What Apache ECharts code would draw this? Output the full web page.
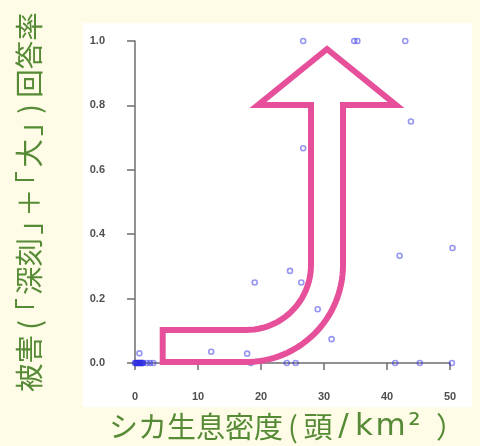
<!DOCTYPE html>
<html>
<head>
<meta charset="utf-8">
<script src="https://cdn.jsdelivr.net/npm/echarts@6/dist/echarts.min.js"></script>
<style>
  html, body { margin: 0; padding: 0; background: #fefce6; }
  #chart { width: 480px; height: 446px; }
</style>
</head>
<body>
<div id="chart"></div>
<script>
// Deer density (head/km2) per survey unit
const density = [
  0, 0.1, 0.2, 0.3, 0.4, 0.5, 0.6, 0.7, 0.8, 0.9, 1.0, 1.1, 1.2, 1.3,
  0.7, 1.9, 2.4, 2.9,
  12.1, 17.8, 18.4, 19.0,
  24.1, 25.5, 24.6, 26.4, 26.7, 26.7,
  29.0, 31.2, 34.8, 35.3,
  41.3, 42.0, 42.9, 43.8, 45.2, 50.3, 50.4
];
// Share of answers reporting "serious" + "large" damage
const damageRate = [
  0, 0, 0, 0, 0, 0, 0, 0, 0, 0, 0, 0, 0, 0,
  0.03, 0, 0, 0,
  0.035, 0.029, 0, 0.25,
  0, 0, 0.286, 0.25, 0.667, 1.0,
  0.167, 0.074, 1.0, 1.0,
  0, 0.333, 1.0, 0.75, 0, 0, 0.357
];
const xTicks = [0, 10, 20, 30, 40, 50];
const yTicks = [0, 0.2, 0.4, 0.6, 0.8, 1.0];

const points = density.map((d, i) => [d, damageRate[i]]);

const green = '#568a36';
const axisGray = '#6e6e6e';
const cjk = 'Noto Sans CJK JP';
const latin = 'DejaVu Sans';
const labelStyle = {
  color: '#505050',
  fontFamily: 'Liberation Sans, Arial, sans-serif',
  fontWeight: 'bold',
  fontSize: 11
};

// Axis titles as rich text: each run sits centred in a box of set width,
// which keeps brackets compact the way proportional Japanese type sets them.
function run(text, width, font, size) {
  return { text, style: { width, fontFamily: font, fontSize: size, fill: green, align: 'center' } };
}
function richTitle(runs) {
  const rich = {};
  let text = '';
  runs.forEach((r, i) => {
    rich['r' + i] = r.style;
    text += '{r' + i + '|' + r.text + '}';
  });
  return { text, rich, width: runs.reduce((s, r) => s + r.style.width, 0) };
}
const yTitle = richTitle([
  run('被害', 57, cjk, 28.5),
  run('(', 20, cjk, 28.5),
  run('｢', 20, cjk, 28.5),
  run('深刻', 57, cjk, 28.5),
  run('｣', 21, cjk, 28.5),
  run('＋', 28.5, cjk, 28.5),
  run('｢', 21, cjk, 28.5),
  run('大', 28.5, cjk, 28.5),
  run('｣', 20, cjk, 28.5),
  run(')', 20, cjk, 28.5),
  run('回答率', 88, cjk, 28.5)
]);
const xTitle = richTitle([
  run('シカ生息密度', 174, cjk, 29),
  run('(', 20, cjk, 29),
  run('頭', 30, cjk, 29),
  run('/', 21, latin, 31),
  run('k', 20, latin, 31),
  run('m', 33, latin, 31),
  run('²', 15, latin, 31),
  run('）', 57, cjk, 29)
]);

// Outline of the upward-turning arrow: two concentric quarter bends
// joining the bottom bar to the vertical shaft, capped by a triangular head.
function arcPoints(cx, cy, r, a0, a1, steps) {
  const pts = [];
  for (let i = 0; i <= steps; i++) {
    const a = a0 + (a1 - a0) * i / steps;
    pts.push([cx + r * Math.cos(a), cy + r * Math.sin(a)]);
  }
  return pts;
}
const bendX = 246, bendY = 265;
const arrowOutline = [].concat(
  [[162.7, 330]],
  arcPoints(bendX, bendY, 65, Math.PI / 2, 0, 24),
  [[311, 105], [258, 105], [327, 49], [396, 105], [343, 105]],
  arcPoints(bendX, bendY, 97, 0, Math.PI / 2, 32),
  [[162.7, 362]]
);

const chart = echarts.init(document.getElementById('chart'));
chart.setOption({
  backgroundColor: '#fefce6',
  animation: false,
  grid: { left: 135, right: 30, top: 41, bottom: 83, outerBoundsMode: 'none' },
  xAxis: {
    type: 'value',
    min: xTicks[0],
    max: xTicks[xTicks.length - 1],
    interval: xTicks[1] - xTicks[0],
    offset: 12,
    axisLine: { show: true, lineStyle: { color: axisGray, width: 1.5 } },
    axisTick: { show: true, length: 7, lineStyle: { color: axisGray, width: 1.5 } },
    axisLabel: Object.assign({ margin: 16 }, labelStyle),
    splitLine: { show: false }
  },
  yAxis: {
    type: 'value',
    min: yTicks[0],
    max: yTicks[yTicks.length - 1],
    interval: yTicks[1] - yTicks[0],
    offset: 13,
    axisLine: { show: true, lineStyle: { color: axisGray, width: 1.5 } },
    axisTick: { show: true, length: 8, lineStyle: { color: axisGray, width: 1.5 } },
    axisLabel: Object.assign({ margin: 17, formatter: v => v.toFixed(1) }, labelStyle),
    splitLine: { show: false }
  },
  series: [{
    type: 'scatter',
    data: points,
    clip: false,
    symbol: 'circle',
    symbolSize: 5,
    z: 3,
    itemStyle: {
      color: 'rgba(0,0,0,0)',
      borderColor: 'rgba(45,45,230,0.62)',
      borderWidth: 1.6
    }
  }],
  graphic: [
    {
      type: 'rect',
      z: -10,
      shape: { x: 83, y: 23, width: 389, height: 384 },
      style: { fill: '#ffffff' },
      silent: true
    },
    {
      type: 'polygon',
      z: 20,
      shape: { points: arrowOutline },
      style: {
        fill: 'none',
        stroke: '#e6509a',
        lineWidth: 6,
        lineJoin: 'miter',
        miterLimit: 10
      },
      silent: true
    },
    {
      type: 'text',
      x: 29,
      y: 392 - yTitle.width / 2,
      rotation: Math.PI / 2,
      style: {
        text: yTitle.text,
        rich: yTitle.rich,
        fill: green,
        fontSize: 28.5,
        fontFamily: cjk,
        align: 'center',
        verticalAlign: 'middle'
      }
    },
    {
      type: 'text',
      x: 109 + xTitle.width / 2,
      y: 427,
      style: {
        text: xTitle.text,
        rich: xTitle.rich,
        fill: green,
        fontSize: 29,
        fontFamily: cjk,
        align: 'center',
        verticalAlign: 'middle'
      }
    }
  ]
});
</script>
</body>
</html>
